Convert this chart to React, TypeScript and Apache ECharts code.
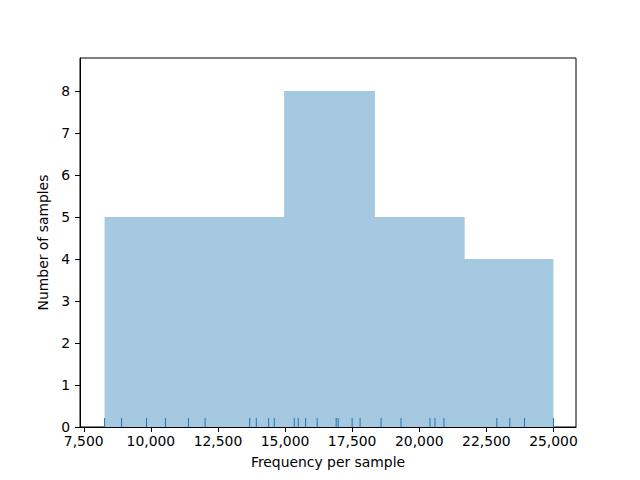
import React, { useEffect, useRef } from "react";
import * as echarts from "echarts";

const samples: number[] = [
  8276, 8908, 9838, 10544, 11400, 12021, 13683, 13929, 14390, 14598,
  15342, 15491, 15766, 16197, 16904, 16978, 17499, 17796, 18577, 19321,
  20400, 20586, 20920, 22891, 23375, 23921, 25000,
];
const binEdges: number[] = [8276, 11621, 14966, 18311, 21655, 25000];
const binCounts: number[] = [5, 5, 8, 5, 4];
const xTicks: number[] = [7500, 10000, 12500, 15000, 17500, 20000, 22500, 25000];
const yTicks: number[] = [0, 1, 2, 3, 4, 5, 6, 7, 8];

const FONT = "DejaVu Sans";
const FS = 13.9;

export default function App() {
  const ref = useRef<HTMLDivElement>(null);
  useEffect(() => {
    const chart = echarts.init(ref.current!, undefined, { renderer: "svg" });
    const histData = binCounts.map((c, i) => [binEdges[i], binEdges[i + 1], c]);
    chart.setOption({
      animation: false,
      grid: {
        left: 80,
        right: 64,
        top: 58,
        bottom: 53,
        show: true,
        borderColor: "#000",
        borderWidth: 1,
        backgroundColor: "transparent",
      },
      xAxis: {
        type: "value",
        min: 7360,
        max: 25840,
        name: "Frequency per sample",
        nameLocation: "middle",
        nameGap: 28,
        nameTextStyle: { fontFamily: FONT, fontSize: FS, color: "#000" },
        axisLine: { show: true, onZero: false, lineStyle: { color: "#000" } },
        axisTick: { show: true, inside: false, length: 5, customValues: xTicks, lineStyle: { color: "#000" } },
        axisLabel: {
          customValues: xTicks,
          fontFamily: FONT,
          fontSize: FS,
          color: "#000",
          margin: 7,
          formatter: (v: number) => v.toLocaleString("en-US"),
        },
        splitLine: { show: false },
      },
      yAxis: {
        type: "value",
        min: 0,
        max: 8.786,
        name: "Number of samples",
        nameLocation: "middle",
        nameGap: 27,
        nameTextStyle: { fontFamily: FONT, fontSize: FS, color: "#000" },
        axisLine: { show: true, lineStyle: { color: "#000" } },
        axisTick: { show: true, length: 5, customValues: yTicks, lineStyle: { color: "#000" } },
        axisLabel: {
          customValues: yTicks,
          fontFamily: FONT,
          fontSize: FS,
          color: "#000",
          margin: 10,
        },
        splitLine: { show: false },
      },
      series: [
        {
          type: "custom",
          data: histData,
          renderItem: (params: any, api: any) => {
            const p0 = api.coord([api.value(0), 0]);
            const p1 = api.coord([api.value(1), api.value(2)]);
            const last = params.dataIndex === binCounts.length - 1;
            return {
              type: "rect",
              shape: {
                x: p0[0],
                y: p1[1],
                width: p1[0] - p0[0] + (last ? 0 : 1),
                height: p0[1] - p1[1],
              },
              style: { fill: "#a5c9e1", stroke: "none" },
            };
          },
          z: 2,
        },
        {
          type: "custom",
          data: samples.map((s) => [s]),
          renderItem: (params: any, api: any) => {
            const p = api.coord([api.value(0), 0]);
            return {
              type: "line",
              shape: { x1: p[0], y1: p[1], x2: p[0], y2: p[1] - 9 },
              style: { stroke: "#1f77b4", lineWidth: 1 },
            };
          },
          z: 3,
        },
      ],
    });
    return () => chart.dispose();
  }, []);
  return <div ref={ref} style={{ width: 640, height: 480, margin: -8 }} />;
}
